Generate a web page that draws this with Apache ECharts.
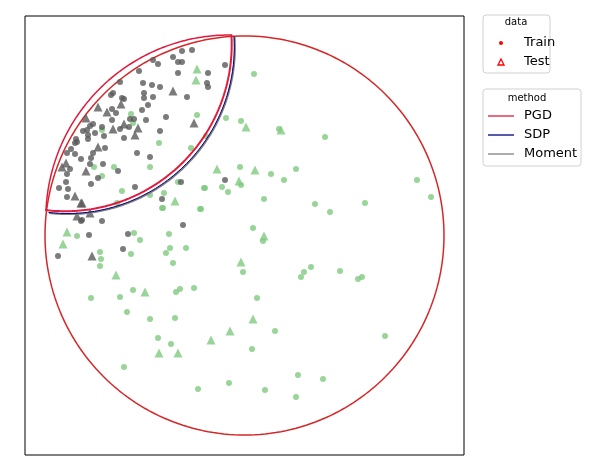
<!DOCTYPE html>
<html>
<head>
<meta charset="utf-8">
<script src="https://cdn.jsdelivr.net/npm/echarts@6/dist/echarts.min.js"></script>
<style>html,body{margin:0;padding:0;background:#fff}#chart{width:594px;height:476px}</style>
</head>
<body>
<div id="chart"></div>
<script>
// point positions (plot units, y grows downward)
const trainIn = [
  [192,50],[182,51],[173,57],[178,62],[182,62],[158,64],[153,60],[225,65],[178,73],[139,71],[208,73],
  [120,82],[143,83],[152,85],[160,87],[207,83],[208,87],[113,93],[111,95],[144,93],[153,97],[144,98],
  [187,97],[122,98],[124,99],[148,105],[112,109],[142,110],[116,113],[112,120],[130,119],[134,119],
  [146,120],[166,117],[93,124],[90,126],[102,127],[87,130],[83,131],[95,133],[129,127],[120,129],
  [88,135],[76,139],[77,142],[104,136],[124,138],[160,131],[75,143],[88,139],[71,149],[105,148],
  [93,153],[67,153],[75,154],[137,153],[150,157],[81,159],[91,158],[103,164],[90,164],[70,169],
  [67,174],[118,171],[98,178],[66,182],[91,184],[59,188],[68,189],[135,187],[181,182],[225,180],
  [67,197],[162,199],[183,225],[102,221],[82,220],[81,221],[89,235],[128,234],[123,249],[58,256]
];
const testIn = [
  [173,91],[98,107],[107,112],[121,104],[86,118],[124,124],[113,129],[138,128],[135,135],[98,147],
  [66,163],[62,167],[86,171],[194,123],[75,196],[82,203],[77,216],[90,213],[92,256],[81,203]
];
const trainOut = [
  [254,74],[226,118],[241,121],[279,129],[325,137],[240,167],[271,174],[296,169],[284,180],[205,188],
  [222,187],[228,192],[241,185],[264,199],[315,204],[330,212],[365,203],[417,180],[431,197],[201,209],
  [253,228],[263,241],[243,272],[304,272],[301,277],[311,267],[340,271],[358,279],[362,277],[257,298],
  [275,331],[252,349],[385,336],[298,375],[323,379],[229,383],[265,390],[296,397],
  [163,208],[200,209],[77,236],[134,233],[140,240],[169,234],[170,248],[166,253],[186,248],[100,252],
  [101,259],[100,266],[131,254],[173,263],[133,290],[91,298],[120,297],[176,292],[180,289],[194,288],
  [127,312],[150,319],[175,318],[158,338],[171,344],[124,367],[198,389],
  [131,114],[133,123],[197,115],[102,130],[159,143],[191,148],[150,167],[114,167],[94,167],[102,176],
  [122,191],[204,188],[164,193],[150,195],[178,182],[206,136],[162,208],[117,203]
];
const testOut = [
  [246,127],[281,130],[217,169],[255,170],[239,181],[264,236],[241,262],[253,319],[230,331],[211,340],
  [175,201],[67,232],[63,244],[116,275],[145,292],[159,353],[178,353],[197,69],[196,80]
];
const methods = ['PGD', 'SDP', 'Moment'];
const methodColors = ['#e31a3c', '#000080', '#808080'];
// circle geometry: [cx, cy, r, startDeg, endDeg]
const bigCircle = [244.5, 235.5, 199.5, 0, 360];
const outerLens = [229.4, 218.6, 183.6, 89.2, 177.6];
const lensArcs = [
  [65.0, 44.5, 166.7, -96.8, 3.4],
  [67.6, 46.8, 166.7, -96.6, 3.6],
  [68.2, 47.4, 166.7, -96.6, 3.6]
];

function arc(c) {
  const pts = [];
  for (let i = 0; i <= 240; i++) {
    const t = (c[3] + (c[4] - c[3]) * i / 240) * Math.PI / 180;
    pts.push([c[0] + c[2] * Math.cos(t), c[1] - c[2] * Math.sin(t)]);
  }
  return pts;
}

const grey = '#5a5a5a';
const green = '#7fc97f';
const series = [
  { type: 'line', data: arc(bigCircle), showSymbol: false, lineStyle: { color: '#d62728', width: 1.5 }, z: 1 }
];
[2, 1, 0].forEach(i => {
  series.push({ type: 'line', data: arc(lensArcs[i]), showSymbol: false,
    lineStyle: { color: methodColors[i], width: i === 1 ? 1 : 2 }, z: 3 });
});
series.push({ type: 'line', data: arc(outerLens), showSymbol: false,
  lineStyle: { color: methodColors[0], width: 1.5 }, z: 3 });
series.push(
  { type: 'scatter', data: trainOut, symbol: 'circle', symbolSize: 6, itemStyle: { color: green }, z: 2 },
  { type: 'scatter', data: testOut, symbol: 'triangle', symbolSize: 9, itemStyle: { color: green }, z: 2 },
  { type: 'scatter', data: trainIn, symbol: 'circle', symbolSize: 6, itemStyle: { color: grey }, z: 2 },
  { type: 'scatter', data: testIn, symbol: 'triangle', symbolSize: 9, itemStyle: { color: grey }, z: 2 }
);

const font = 'DejaVu Sans';
const legendGraphics = [
  { type: 'rect', shape: { x: 483, y: 15, width: 67, height: 58, r: 3 }, style: { fill: '#fff', stroke: '#d0d0d0' } },
  { type: 'text', x: 516, y: 17, style: { text: 'data', font: '10px ' + font, fill: '#000', align: 'center' } },
  { type: 'circle', shape: { cx: 501, cy: 43, r: 2 }, style: { fill: '#ff0000' } },
  { type: 'text', x: 524, y: 36, style: { text: 'Train', font: '13px ' + font, fill: '#000' } },
  { type: 'polygon', shape: { points: [[501, 59], [504, 65], [498, 65]] }, style: { fill: 'none', stroke: '#ff0000', lineWidth: 1.3 } },
  { type: 'text', x: 524, y: 55, style: { text: 'Test', font: '13px ' + font, fill: '#000' } },
  { type: 'rect', shape: { x: 483, y: 89, width: 98, height: 77, r: 3 }, style: { fill: '#fff', stroke: '#d0d0d0' } },
  { type: 'text', x: 527, y: 93, style: { text: 'method', font: '10px ' + font, fill: '#000', align: 'center' } }
];
methods.forEach((m, i) => {
  const y = 116 + i * 19;
  legendGraphics.push(
    { type: 'line', shape: { x1: 488, y1: y, x2: 514, y2: y }, style: { stroke: methodColors[i], lineWidth: 1.3 } },
    { type: 'text', x: 524, y: y - 7, style: { text: m, font: '13px ' + font, fill: '#000' } }
  );
});

const chart = echarts.init(document.getElementById('chart'));
chart.setOption({
  animation: false,
  grid: { left: 25, top: 16, width: 439, height: 439, show: true, borderColor: '#000', borderWidth: 1 },
  xAxis: { type: 'value', min: 25, max: 464, show: false },
  yAxis: { type: 'value', min: 16, max: 455, inverse: true, show: false },
  series: series,
  graphic: legendGraphics
});
</script>
</body>
</html>
